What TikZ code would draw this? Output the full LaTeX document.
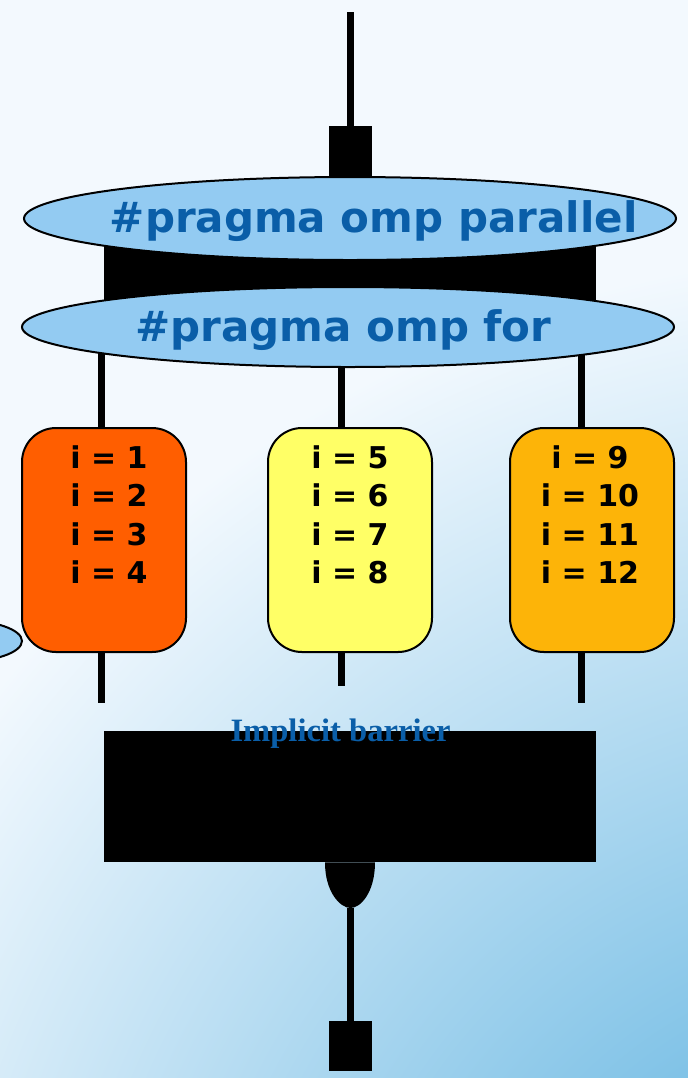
\documentclass[tikz,border=0pt]{standalone}
\usepackage{fontspec}
\setmainfont{DejaVu Sans}
\newfontfamily\barrierFont{Liberation Serif}
\usepackage{tikz}
\usetikzlibrary{shapes.geometric,positioning}
\definecolor{pragmaFill}{HTML}{93CBF2}
\definecolor{pragmaText}{HTML}{0A5EA8}
\definecolor{chunkOrange}{HTML}{FF5E00}
\definecolor{chunkYellow}{HTML}{FFFF66}
\definecolor{chunkGold}{HTML}{FDB408}
\definecolor{slideBlue}{HTML}{46A7DB}
\definecolor{slidePale}{HTML}{F3F9FE}
\newcommand{\threadWidth}{3.5pt}

\begin{document}
\begin{tikzpicture}[x=0.5pt, y=-0.5pt,
		pragma/.style={ellipse, draw=black, line width=1pt, fill=pragmaFill, minimum width=326pt, inner sep=0pt},
		pragmaLabel/.style={anchor=base, text=pragmaText, font=\bfseries\fontsize{21}{24}\selectfont, inner sep=0pt},
		chunk/.style={draw=black, line width=1pt, rounded corners=17pt, minimum width=82pt, minimum height=112pt, inner sep=0pt},
		chunkLabel/.style={align=center, font=\bfseries\fontsize{15}{19.2}\selectfont, inner sep=0pt},
		thread/.style={line width=\threadWidth},
		blackBox/.style={fill=black, inner sep=0pt}]
	\useasboundingbox (0,0) rectangle (688,1078);
	\begin{scope}
		\clip (0,0) rectangle (688,1078);
		\fill[slidePale] (0,0) rectangle (688,1078);
		\shade[inner color=slideBlue, outer color=slidePale] (900,1400) circle [radius=1150];
	\end{scope}

	% master thread
	\coordinate (masterStart) at (350.5,12);
	\node (masterTop) [blackBox, minimum width=21.5pt, minimum height=32pt] at (350.5,158) {};
	\draw[thread] (masterStart) -- (masterTop.north);

	% fork
	\node (forkBar) [blackBox, minimum width=246pt, minimum height=40pt] at (350,270) {};
	\coordinate (forkA) at (101,330);
	\coordinate (forkB) at (341.5,330);
	\coordinate (forkC) at (581.5,330);

	\node (chunkA) [chunk, fill=chunkOrange] at (104,540) {};
	\node (chunkB) [chunk, fill=chunkYellow] at (350,540) {};
	\node (chunkC) [chunk, fill=chunkGold] at (592,540) {};
	\node [chunkLabel, below=9pt of chunkA.north, xshift=2.5pt] {i = 1\\i = 2\\i = 3\\i = 4};
	\node [chunkLabel, below=9pt of chunkB.north] {i = 5\\i = 6\\i = 7\\i = 8};
	\node [chunkLabel, below=9pt of chunkC.north, xshift=-1pt] {i = 9\\i = 10\\i = 11\\i = 12};

	\foreach \n in {A,B,C}
		\draw[thread] (fork\n) -- (fork\n |- chunk\n.north);

	\node (parallelPragma) [pragma, minimum height=41.5pt] at (350,218.5) {};
	\node [pragmaLabel] at ([xshift=11.8pt, yshift=-6.75pt]parallelPragma.center) {\#pragma omp parallel};
	\node (forPragma) [pragma, minimum height=40pt] at (348,327) {};
	\node [pragmaLabel] at ([xshift=-2.3pt, yshift=-7pt]forPragma.center) {\#pragma omp for};

	%\node (offSlide) is cut by the page edge
	\node (offSlide) [ellipse, draw=black, line width=1pt, fill=pragmaFill, minimum width=62pt, minimum height=21pt, inner sep=0pt] at (-40,641) {};

	% join
	\coordinate (joinA) at (101,703);
	\coordinate (joinB) at (341.5,686);
	\coordinate (joinC) at (581.5,703);
	\foreach \n in {A,B,C}
		\draw[thread] (join\n |- chunk\n.south) -- (join\n);

	\node (barrier) [blackBox, minimum width=246pt, minimum height=65.5pt] at (350,796.5) {};
	\node [anchor=base, text=pragmaText, font=\barrierFont\bfseries\fontsize{16.3}{19}\selectfont, inner sep=0pt] at (340.5,741) {Implicit barrier};

	\coordinate (joinTip) at (350.5,908);
	\fill ([xshift=-12.5pt]barrier.south) .. controls ([xshift=-12.5pt, yshift=-15pt]barrier.south) and ([xshift=-5pt]joinTip) .. (joinTip)
		.. controls ([xshift=5pt]joinTip) and ([xshift=12.5pt, yshift=-15pt]barrier.south) .. ([xshift=12.5pt]barrier.south) -- cycle;
	\node (masterBottom) [blackBox, minimum width=21.5pt, minimum height=25pt] at (350.5,1046) {};
	\draw[thread] (joinTip) -- (masterBottom.north);
\end{tikzpicture}
\end{document}
